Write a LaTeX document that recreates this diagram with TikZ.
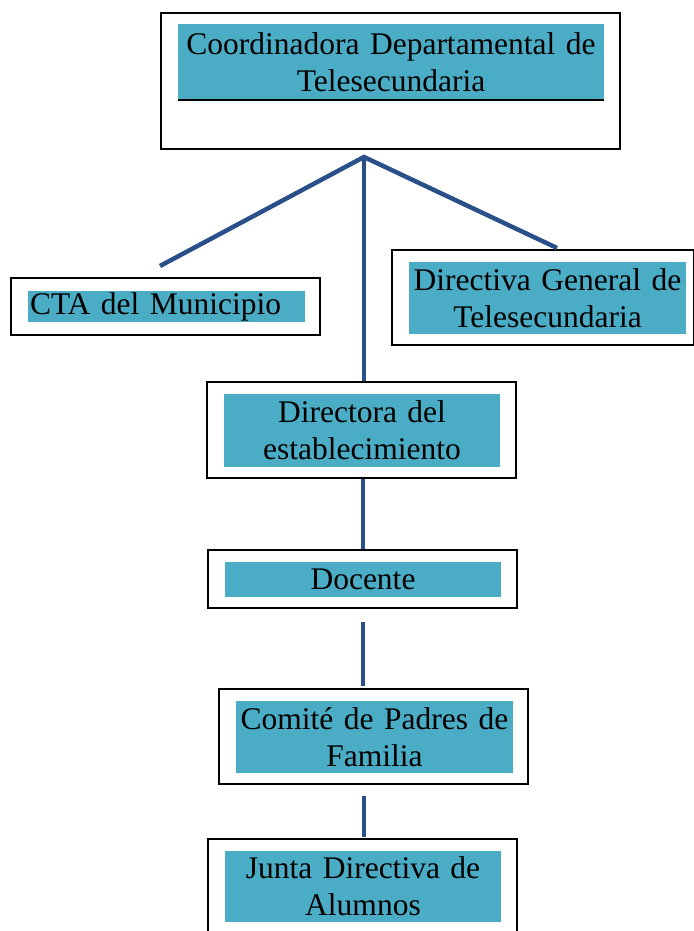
\documentclass[tikz,border=0pt]{standalone}
\usepackage{fontspec}
\setmainfont{Liberation Serif}
\usetikzlibrary{positioning}

\definecolor{aqua}{RGB}{75,172,198}
\definecolor{linkblue}{RGB}{42,80,138}

\tikzset{
  frame/.style={draw, line width=1.5pt, inner sep=0pt},
  cyanbox/.style={fill=aqua, inner sep=0pt, align=center,
    font=\fontsize{31.5}{37}\selectfont},
  link/.style={draw=linkblue, line width=4.5pt}
}

\begin{document}
\begin{tikzpicture}[x=1pt, y=-1pt]
\useasboundingbox (0,0) rectangle (693,931);
% outer frames
\node[frame, minimum width=459pt, minimum height=136pt] (topframe) at (390.5,81) {};
\node[frame, minimum width=309pt, minimum height=57pt] (ctaframe) at (165.5,306.5) {};
\node[frame, minimum width=302pt, minimum height=95pt] (dirgenframe) at (543,297.5) {};
\node[frame, minimum width=309pt, minimum height=96pt] (directora) at (361.5,430) {};
\node[frame, minimum width=309pt, minimum height=58pt] (docente) at (362.5,579) {};
\node[frame, minimum width=309pt, minimum height=95pt] (comite) at (373.5,736.5) {};
\node[frame, minimum width=309pt, minimum height=96pt] (junta) at (362.5,887) {};

% coloured labels
\node[cyanbox, text width=426pt, minimum height=76pt] (topfill) at (391,62) {Coordinadora Departamental de\\Telesecundaria};
\draw[line width=2pt] (topfill.south west) -- (topfill.south east);
\node[cyanbox, text width=277pt, minimum height=31pt, align=left] (ctafill) at (166.5,306.5) {\hspace*{2pt}CTA del Municipio};
\node[cyanbox, text width=277pt, minimum height=72pt] (dirgenfill) at (547.5,298) {Directiva General de\\Telesecundaria};
\node[cyanbox, text width=276pt, minimum height=73pt] (directorafill) at (362,430.5) {Directora del\\establecimiento};
\node[cyanbox, text width=276pt, minimum height=35pt] (docentefill) at (363,579.5) {Docente};
\node[cyanbox, text width=277pt, minimum height=72pt] (comitefill) at (374.5,737) {Comit\'e de Padres de\\Familia};
\node[cyanbox, text width=276pt, minimum height=71pt] (juntafill) at (363,886.5) {Junta Directiva de\\Alumnos};

% connectors
\coordinate (hub) at (364,157);
\coordinate (ctaend) at (160,266);
\coordinate (dirgenend) at (557,248);
\draw[link] (ctaend) -- (hub) -- (dirgenend);
\draw[link] (hub) -- (hub |- directora.north);
\draw[link] ([xshift=1.5pt]directora.south) -- ([xshift=0.5pt]docente.north);
\draw[link] ([xshift=0.5pt, yshift=-13pt]docente.south) -- ([xshift=-10.5pt, yshift=2pt]comite.north);
\draw[link] ([xshift=-9.5pt, yshift=-11pt]comite.south) -- ([xshift=1.5pt, yshift=1pt]junta.north);
\end{tikzpicture}
\end{document}
